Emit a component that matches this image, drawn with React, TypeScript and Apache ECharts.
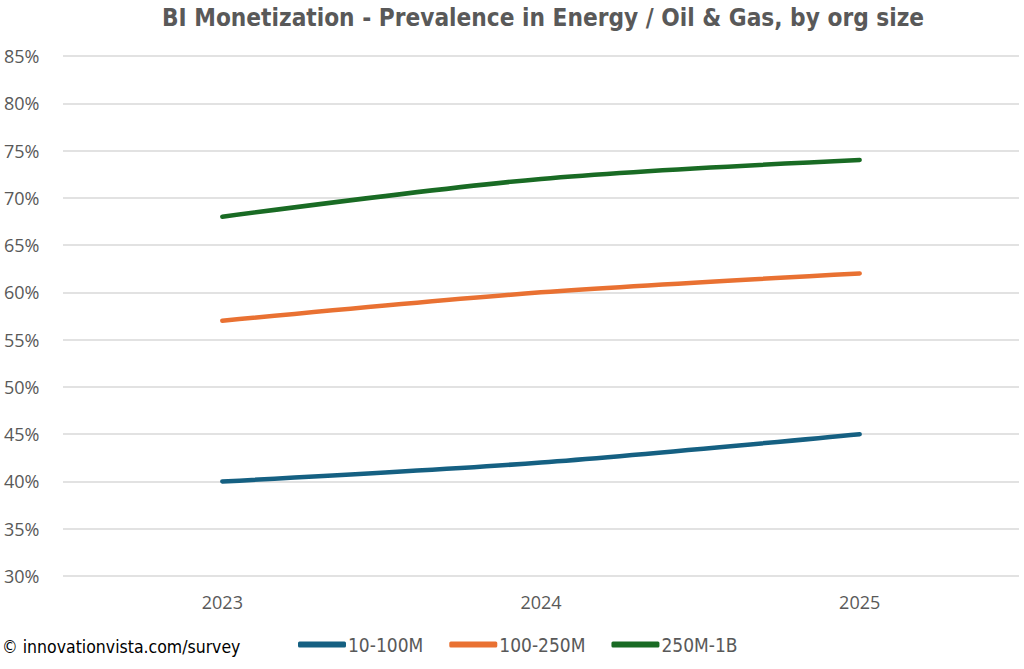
import React, { useEffect, useRef } from "react";
import * as echarts from "echarts";

const categories = ["2023", "2024", "2025"];
const seriesNames = ["10-100M", "100-250M", "250M-1B"];
const s1 = [40, 42, 45];
const s2 = [57, 60, 62];
const s3 = [68, 72, 74];
const colors = ["#156082", "#E97132", "#196B24"];
const titleText = "BI Monetization - Prevalence in Energy / Oil & Gas, by org size";
const copyright = "© innovationvista.com/survey";

const narrow = "'Liberation Sans Narrow', 'DejaVu Sans Condensed', 'Roboto', sans-serif";
const sans = "'Open Sans', 'Liberation Sans', sans-serif";

export default function App() {
  const ref = useRef<HTMLDivElement>(null);
  useEffect(() => {
    const chart = echarts.init(ref.current!, null, { renderer: "svg" });
    const data = [s1, s2, s3];
    chart.setOption({
      animation: false,
      backgroundColor: "#ffffff",
      title: {
        text: titleText,
        left: 157,
        top: 1,
        textStyle: { fontFamily: narrow, fontWeight: "bold", fontSize: 24.2, color: "#595959" },
      },
      grid: { left: 63, right: 5, top: 56, bottom: 93 },
      legend: {
        bottom: 10,
        left: 293,
        itemWidth: 48,
        itemHeight: 6,
        itemGap: 26,
        icon: "roundRect",
        textStyle: { fontFamily: narrow, fontSize: 19, color: "#595959", padding: [0, 0, 0, -3] },
        data: seriesNames,
      },
      xAxis: {
        type: "category",
        data: categories,
        boundaryGap: true,
        axisLine: { show: false },
        axisTick: { show: false },
        axisLabel: { fontFamily: sans, fontSize: 18, color: "#595959", margin: 17 },
      },
      yAxis: {
        type: "value",
        min: 30,
        max: 85,
        interval: 5,
        axisLine: { show: false },
        axisTick: { show: false },
        axisLabel: {
          formatter: (v: number) => v + "%",
          fontFamily: sans,
          fontSize: 18,
          color: "#595959",
          align: "left",
          margin: 59,
        },
        splitLine: { lineStyle: { color: "#D9D9D9", width: 1.5 } },
      },
      graphic: [
        {
          type: "text",
          left: 2,
          bottom: 13,
          style: { text: copyright, fontFamily: narrow, fontSize: 17.5, fill: "#000000" },
        },
      ],
      series: seriesNames.map((name, i) => ({
        name,
        type: "line",
        data: data[i],
        smooth: 0.3,
        symbol: "none",
        itemStyle: { color: colors[i] },
        lineStyle: { color: colors[i], width: 4.5, cap: "round" },
      })),
    });
    return () => chart.dispose();
  }, []);
  return <div ref={ref} style={{ width: 1024, height: 669, position: "absolute", left: 0, top: 0 }} />;
}
